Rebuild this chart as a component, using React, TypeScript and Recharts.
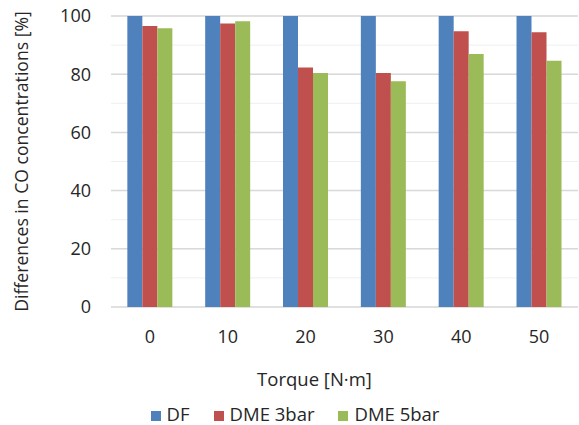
import { Bar, BarChart, CartesianGrid, Label, Legend, XAxis, YAxis } from 'recharts';

const torque = ['0', '10', '20', '30', '40', '50'];
const df = [100, 100, 100, 100, 100, 100];
const dme3 = [96.6, 97.4, 82.3, 80.4, 94.8, 94.4];
const dme5 = [95.8, 98.2, 80.4, 77.6, 86.9, 84.6];

const majorTicks = [0, 20, 40, 60, 80, 100];
const minorTicks = [0, 5, 10, 15, 20, 25, 30, 35, 40, 45, 50, 55, 60, 65, 70, 75, 80, 85, 90, 95, 100];

const chartData = torque.map((t, i) => ({
  torque: t,
  df: df[i],
  dme3: dme3[i],
  dme5: dme5[i],
}));

const FONT = '"Open Sans", sans-serif';
const TEXT = '#262626';

export default function App() {
  return (
    <div style={{ position: 'absolute', left: 0, top: 0, width: 579, height: 425, background: '#fff', fontFamily: FONT }}>
      <BarChart
        width={579}
        height={425}
        data={chartData}
        margin={{ top: 16, right: 1, left: 0, bottom: 0 }}
        barCategoryGap="21%"
        barGap={0}
      >
        <CartesianGrid vertical={false} horizontalValues={minorTicks} stroke="#efefef" strokeWidth={1} />
        <CartesianGrid vertical={false} horizontalValues={majorTicks} stroke="#d9d9d9" strokeWidth={1.5} />
        <XAxis
          dataKey="torque"
          axisLine={false}
          tickLine={false}
          tickSize={0}
          tickMargin={23}
          height={82}
          tick={{ fill: TEXT, fontSize: 18, fontFamily: FONT }}
        >
          <Label
            value="Torque [N·m]"
            position="insideBottom"
            offset={3}
            dx={-30}
            fill={TEXT}
            fontSize={18.5}
            fontFamily={FONT}
          />
        </XAxis>
        <YAxis
          domain={[0, 100]}
          ticks={majorTicks}
          axisLine={false}
          tickLine={false}
          tickSize={0}
          tickMargin={20}
          width={111}
          tick={{ fill: TEXT, fontSize: 18, fontFamily: FONT }}
        >
          <Label
            value="Differences in CO concentrations [%]"
            angle={-90}
            position="insideLeft"
            offset={22}
            style={{ textAnchor: 'middle' }}
            fill={TEXT}
            fontSize={17.6}
            fontFamily={FONT}
          />
        </YAxis>
        <Legend
          height={36}
          iconType="square"
          iconSize={10}
          wrapperStyle={{ fontSize: 18.5, fontFamily: FONT, color: TEXT, bottom: -12, left: 18 }}
          formatter={(v) => <span style={{ color: TEXT, marginLeft: 2, marginRight: 14 }}>{v}</span>}
        />
        <Bar dataKey="df" name="DF" fill="#4F81BD" isAnimationActive={false} />
        <Bar dataKey="dme3" name="DME 3bar" fill="#C0504D" isAnimationActive={false} />
        <Bar dataKey="dme5" name="DME 5bar" fill="#9BBB59" isAnimationActive={false} />
      </BarChart>
    </div>
  );
}
